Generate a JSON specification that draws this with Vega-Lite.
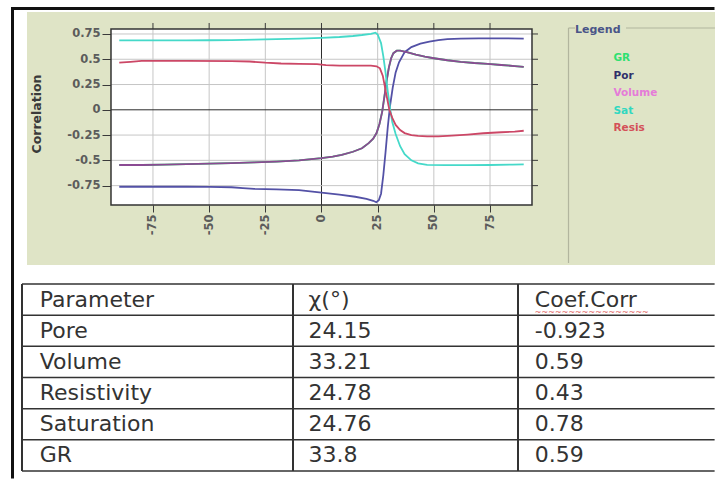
{
  "$schema": "https://vega.github.io/schema/vega-lite/v6.json",
  "background": "white",
  "padding": {"left": 10, "top": 6, "right": 0, "bottom": 0},
  "config": {"view": {"stroke": null}},
  "datasets": {
    "one": [{}],
    "lines": [
      {"series":"GR","x":-90,"corr":-0.546},{"series":"GR","x":-80,"corr":-0.546},{"series":"GR","x":-70,"corr":-0.543},{"series":"GR","x":-60,"corr":-0.537},{"series":"GR","x":-50,"corr":-0.532},{"series":"GR","x":-40,"corr":-0.527},{"series":"GR","x":-30,"corr":-0.52},{"series":"GR","x":-20,"corr":-0.512},{"series":"GR","x":-10,"corr":-0.5},{"series":"GR","x":0,"corr":-0.478},{"series":"GR","x":5,"corr":-0.463},{"series":"GR","x":9,"corr":-0.445},{"series":"GR","x":14,"corr":-0.415},{"series":"GR","x":18,"corr":-0.38},{"series":"GR","x":21,"corr":-0.33},{"series":"GR","x":23,"corr":-0.285},{"series":"GR","x":24.5,"corr":-0.23},{"series":"GR","x":25.8,"corr":-0.14},{"series":"GR","x":27,"corr":-0.02},{"series":"GR","x":28,"corr":0.13},{"series":"GR","x":29,"corr":0.29},{"series":"GR","x":30,"corr":0.42},{"series":"GR","x":31,"corr":0.51},{"series":"GR","x":32,"corr":0.56},{"series":"GR","x":33.5,"corr":0.585},{"series":"GR","x":35,"corr":0.585},{"series":"GR","x":38,"corr":0.57},{"series":"GR","x":42,"corr":0.545},{"series":"GR","x":46,"corr":0.525},{"series":"GR","x":50,"corr":0.51},{"series":"GR","x":56,"corr":0.49},{"series":"GR","x":62,"corr":0.475},{"series":"GR","x":68,"corr":0.463},{"series":"GR","x":74,"corr":0.455},{"series":"GR","x":80,"corr":0.443},{"series":"GR","x":86,"corr":0.433},{"series":"GR","x":90,"corr":0.425},
      {"series":"Por","x":-90,"corr":-0.761},{"series":"Por","x":-80,"corr":-0.761},{"series":"Por","x":-70,"corr":-0.761},{"series":"Por","x":-60,"corr":-0.761},{"series":"Por","x":-50,"corr":-0.762},{"series":"Por","x":-40,"corr":-0.766},{"series":"Por","x":-35,"corr":-0.775},{"series":"Por","x":-30,"corr":-0.782},{"series":"Por","x":-20,"corr":-0.788},{"series":"Por","x":-10,"corr":-0.795},{"series":"Por","x":0,"corr":-0.82},{"series":"Por","x":8,"corr":-0.84},{"series":"Por","x":15,"corr":-0.86},{"series":"Por","x":20,"corr":-0.88},{"series":"Por","x":23,"corr":-0.9},{"series":"Por","x":24.4,"corr":-0.915},{"series":"Por","x":25.5,"corr":-0.895},{"series":"Por","x":26.5,"corr":-0.83},{"series":"Por","x":27.5,"corr":-0.65},{"series":"Por","x":28.5,"corr":-0.42},{"series":"Por","x":29.5,"corr":-0.17},{"series":"Por","x":30.5,"corr":0.04},{"series":"Por","x":31.7,"corr":0.22},{"series":"Por","x":33,"corr":0.37},{"series":"Por","x":34.5,"corr":0.47},{"series":"Por","x":37,"corr":0.57},{"series":"Por","x":40,"corr":0.62},{"series":"Por","x":44,"corr":0.655},{"series":"Por","x":48,"corr":0.675},{"series":"Por","x":52,"corr":0.69},{"series":"Por","x":56,"corr":0.7},{"series":"Por","x":62,"corr":0.705},{"series":"Por","x":70,"corr":0.707},{"series":"Por","x":80,"corr":0.707},{"series":"Por","x":90,"corr":0.705},
      {"series":"Volume","x":-90,"corr":-0.546},{"series":"Volume","x":-80,"corr":-0.546},{"series":"Volume","x":-70,"corr":-0.543},{"series":"Volume","x":-60,"corr":-0.537},{"series":"Volume","x":-50,"corr":-0.532},{"series":"Volume","x":-40,"corr":-0.527},{"series":"Volume","x":-30,"corr":-0.52},{"series":"Volume","x":-20,"corr":-0.512},{"series":"Volume","x":-10,"corr":-0.5},{"series":"Volume","x":0,"corr":-0.478},{"series":"Volume","x":5,"corr":-0.463},{"series":"Volume","x":9,"corr":-0.445},{"series":"Volume","x":14,"corr":-0.415},{"series":"Volume","x":18,"corr":-0.38},{"series":"Volume","x":21,"corr":-0.33},{"series":"Volume","x":23,"corr":-0.285},{"series":"Volume","x":24.5,"corr":-0.23},{"series":"Volume","x":25.8,"corr":-0.14},{"series":"Volume","x":27,"corr":-0.02},{"series":"Volume","x":28,"corr":0.13},{"series":"Volume","x":29,"corr":0.29},{"series":"Volume","x":30,"corr":0.42},{"series":"Volume","x":31,"corr":0.51},{"series":"Volume","x":32,"corr":0.56},{"series":"Volume","x":33.5,"corr":0.585},{"series":"Volume","x":35,"corr":0.585},{"series":"Volume","x":38,"corr":0.57},{"series":"Volume","x":42,"corr":0.545},{"series":"Volume","x":46,"corr":0.525},{"series":"Volume","x":50,"corr":0.51},{"series":"Volume","x":56,"corr":0.49},{"series":"Volume","x":62,"corr":0.475},{"series":"Volume","x":68,"corr":0.463},{"series":"Volume","x":74,"corr":0.455},{"series":"Volume","x":80,"corr":0.443},{"series":"Volume","x":86,"corr":0.433},{"series":"Volume","x":90,"corr":0.425},
      {"series":"Sat","x":-90,"corr":0.687},{"series":"Sat","x":-80,"corr":0.686},{"series":"Sat","x":-70,"corr":0.686},{"series":"Sat","x":-60,"corr":0.687},{"series":"Sat","x":-50,"corr":0.688},{"series":"Sat","x":-40,"corr":0.69},{"series":"Sat","x":-30,"corr":0.694},{"series":"Sat","x":-20,"corr":0.699},{"series":"Sat","x":-10,"corr":0.705},{"series":"Sat","x":0,"corr":0.712},{"series":"Sat","x":8,"corr":0.72},{"series":"Sat","x":14,"corr":0.73},{"series":"Sat","x":18,"corr":0.74},{"series":"Sat","x":22,"corr":0.752},{"series":"Sat","x":24,"corr":0.763},{"series":"Sat","x":25,"corr":0.745},{"series":"Sat","x":26.5,"corr":0.66},{"series":"Sat","x":27.5,"corr":0.53},{"series":"Sat","x":28.5,"corr":0.37},{"series":"Sat","x":29.5,"corr":0.18},{"series":"Sat","x":30.5,"corr":0.02},{"series":"Sat","x":31.5,"corr":-0.12},{"series":"Sat","x":33,"corr":-0.24},{"series":"Sat","x":35,"corr":-0.36},{"series":"Sat","x":37,"corr":-0.44},{"series":"Sat","x":40,"corr":-0.5},{"series":"Sat","x":43,"corr":-0.53},{"series":"Sat","x":47,"corr":-0.545},{"series":"Sat","x":55,"corr":-0.548},{"series":"Sat","x":65,"corr":-0.548},{"series":"Sat","x":75,"corr":-0.546},{"series":"Sat","x":85,"corr":-0.542},{"series":"Sat","x":90,"corr":-0.54},
      {"series":"Resis","x":-90,"corr":0.466},{"series":"Resis","x":-85,"corr":0.475},{"series":"Resis","x":-80,"corr":0.483},{"series":"Resis","x":-60,"corr":0.483},{"series":"Resis","x":-40,"corr":0.482},{"series":"Resis","x":-32,"corr":0.478},{"series":"Resis","x":-25,"corr":0.466},{"series":"Resis","x":-18,"corr":0.458},{"series":"Resis","x":-10,"corr":0.455},{"series":"Resis","x":-2,"corr":0.452},{"series":"Resis","x":2,"corr":0.442},{"series":"Resis","x":8,"corr":0.437},{"series":"Resis","x":15,"corr":0.436},{"series":"Resis","x":22,"corr":0.436},{"series":"Resis","x":24.5,"corr":0.43},{"series":"Resis","x":26,"corr":0.41},{"series":"Resis","x":27.3,"corr":0.335},{"series":"Resis","x":28.7,"corr":0.17},{"series":"Resis","x":30.2,"corr":0.0},{"series":"Resis","x":31.5,"corr":-0.08},{"series":"Resis","x":33,"corr":-0.15},{"series":"Resis","x":35,"corr":-0.2},{"series":"Resis","x":37,"corr":-0.23},{"series":"Resis","x":40,"corr":-0.25},{"series":"Resis","x":43,"corr":-0.258},{"series":"Resis","x":47,"corr":-0.262},{"series":"Resis","x":52,"corr":-0.262},{"series":"Resis","x":58,"corr":-0.255},{"series":"Resis","x":65,"corr":-0.245},{"series":"Resis","x":72,"corr":-0.232},{"series":"Resis","x":80,"corr":-0.222},{"series":"Resis","x":86,"corr":-0.215},{"series":"Resis","x":90,"corr":-0.207}
    ],
    "xgrid": [{"g":-75},{"g":-50},{"g":-25},{"g":0},{"g":25},{"g":50},{"g":75}],
    "ygrid": [{"g":-0.75},{"g":-0.5},{"g":-0.25},{"g":0},{"g":0.25},{"g":0.5},{"g":0.75}],
    "table": [
      {"Parameter":"Parameter","chi":"χ(°)","coef":"Coef.Corr"},
      {"Parameter":"Pore","chi":"24.15","coef":"-0.923"},
      {"Parameter":"Volume","chi":"33.21","coef":"0.59"},
      {"Parameter":"Resistivity","chi":"24.78","coef":"0.43"},
      {"Parameter":"Saturation","chi":"24.76","coef":"0.78"},
      {"Parameter":"GR","chi":"33.8","coef":"0.59"}
    ]
  },
  "spacing": 19,
  "bounds": "flush",
  "vconcat": [
    {
      "width": 689,
      "height": 253,
      "view": {"fill": "#dfe4c6", "stroke": null},
      "resolve": {"axis": {"x": "independent", "y": "independent"}},
      "layer": [
        {
          "data": {"name": "one"},
          "mark": {"type": "rect", "fill": "white"},
          "encoding": {
            "x": {"datum": -93.68, "type": "quantitative", "scale": {"domain": [-131.06, 175.57], "nice": false, "zero": false}, "axis": null},
            "x2": {"datum": 93.68},
            "y": {"datum": 0.7992, "type": "quantitative", "scale": {"domain": [-1.5351, 0.9674], "nice": false, "zero": false}, "axis": null},
            "y2": {"datum": -0.9417}
          }
        },
        {
          "data": {"name": "xgrid"},
          "mark": {"type": "rule", "strokeWidth": 1},
          "encoding": {
            "x": {"field": "g", "type": "quantitative", "axis": null},
            "y": {"datum": -0.9417, "type": "quantitative", "axis": null},
            "y2": {"datum": 0.7992},
            "color": {"condition": {"test": "datum.g === 0", "value": "#2b2b2b"}, "value": "#c6c6c6"}
          }
        },
        {
          "data": {"name": "ygrid"},
          "mark": {"type": "rule", "strokeWidth": 1},
          "encoding": {
            "y": {"field": "g", "type": "quantitative", "axis": null},
            "x": {"datum": -93.68, "type": "quantitative", "axis": null},
            "x2": {"datum": 93.68},
            "color": {"condition": {"test": "datum.g === 0", "value": "#2b2b2b"}, "value": "#c6c6c6"}
          }
        },
        {
          "data": {"name": "xgrid"},
          "mark": {"type": "rule", "strokeWidth": 1, "color": "#3a3a3a"},
          "encoding": {
            "x": {"field": "g", "type": "quantitative", "axis": null},
            "y": {"datum": 0.7992, "type": "quantitative", "axis": null},
            "y2": {"datum": 0.8586}
          }
        },
        {
          "data": {"name": "ygrid"},
          "mark": {"type": "rule", "strokeWidth": 1, "color": "#3a3a3a"},
          "encoding": {
            "y": {"field": "g", "type": "quantitative", "axis": null},
            "x": {"datum": 93.68, "type": "quantitative", "axis": null},
            "x2": {"datum": 96.35}
          }
        },
        {
          "data": {"name": "lines"},
          "mark": {"type": "line", "strokeWidth": 1.8},
          "encoding": {
            "x": {
              "field": "x", "type": "quantitative",
              "scale": {"domain": [-131.06, 175.57], "nice": false, "zero": false},
              "axis": {
                "orient": "bottom", "offset": -60, "values": [-75, -50, -25, 0, 25, 50, 75],
                "labelExpr": "'' + datum.value", "labelAngle": 270, "labelFlush": false, "labelOverlap": false,
                "domain": false, "grid": false, "ticks": true, "tickSize": 7, "tickColor": "#3a3a3a",
                "labelPadding": 2, "labelFont": "DejaVu Sans", "labelFontWeight": "bold", "labelFontSize": 11.5, "labelColor": "#5c5c5c",
                "title": null
              }
            },
            "y": {
              "field": "corr", "type": "quantitative",
              "scale": {"domain": [-1.5351, 0.9674], "nice": false, "zero": false},
              "axis": {
                "orient": "left", "offset": -84, "values": [-0.75, -0.5, -0.25, 0, 0.25, 0.5, 0.75],
                "labelExpr": "'' + datum.value", "labelFlush": false, "labelOverlap": false,
                "domain": false, "grid": false, "ticks": true, "tickSize": 9, "tickColor": "#3a3a3a",
                "labelPadding": 2, "labelFont": "DejaVu Sans", "labelFontWeight": "bold", "labelFontSize": 11.5, "labelColor": "#5c5c5c",
                "title": "Correlation", "titleFont": "DejaVu Sans", "titleFontWeight": "bold", "titleFontSize": 12.5, "titleColor": "#3a3a3a",
                "titleAngle": 270, "titleX": -74.5, "titleY": 101.5, "titleAlign": "center", "titleBaseline": "middle"
              }
            },
            "color": {
              "field": "series", "type": "nominal",
              "scale": {"domain": ["GR", "Por", "Volume", "Sat", "Resis"], "range": ["#2bd96a", "#5351a6", "#8b4a93", "#45d9c9", "#cc4766"]},
              "legend": {
                "orient": "none", "legendX": 548, "legendY": 11.5, "padding": 0,
                "title": "Legend", "titleFont": "DejaVu Sans", "titleFontWeight": "bold", "titleFontSize": 11, "titleColor": "#4a5588", "titlePadding": 18.5,
                "labelFont": "DejaVu Sans", "labelFontWeight": "bold", "labelFontSize": 10.5, "labelOffset": 28,
                "symbolSize": 0, "symbolStrokeWidth": 0, "symbolOpacity": 0, "rowPadding": 6.5,
                "encode": {"labels": {"update": {"fill": {"signal": "datum.value === 'GR' ? '#2ee070' : datum.value === 'Por' ? '#2f2f6a' : datum.value === 'Volume' ? '#e57bd8' : datum.value === 'Sat' ? '#30d8c0' : '#d45058'"}}}}
              }
            }
          }
        },
        {
          "data": {"name": "one"},
          "mark": {"type": "rect", "filled": false, "stroke": "#333333", "strokeWidth": 1.5},
          "encoding": {
            "x": {"datum": -93.68, "type": "quantitative", "axis": null},
            "x2": {"datum": 93.68},
            "y": {"datum": 0.7992, "type": "quantitative", "axis": null},
            "y2": {"datum": -0.9417}
          }
        },
        {
          "data": {"name": "one"},
          "mark": {"type": "rule", "strokeWidth": 3, "color": "#111111", "strokeCap": "square"},
          "encoding": {
            "x": {"datum": -137.51, "type": "quantitative", "axis": null},
            "y": {"datum": 1.002, "type": "quantitative", "axis": null},
            "y2": {"datum": -3.6321}
          }
        },
        {
          "data": {"name": "one"},
          "mark": {"type": "rule", "strokeWidth": 3, "color": "#111111", "strokeCap": "square"},
          "encoding": {
            "y": {"datum": 1.002, "type": "quantitative", "axis": null},
            "x": {"datum": -137.51, "type": "quantitative", "axis": null},
            "x2": {"datum": 174.24}
          }
        },
        {
          "data": {"name": "one"},
          "mark": {"type": "rule", "strokeWidth": 1.2, "color": "#b2b59e"},
          "encoding": {
            "x": {"datum": 109.93, "type": "quantitative", "axis": null},
            "y": {"datum": 0.8091, "type": "quantitative", "axis": null},
            "y2": {"datum": -1.5153}
          }
        },
        {
          "data": {"name": "one"},
          "mark": {"type": "rule", "strokeWidth": 1.2, "color": "#b2b59e"},
          "encoding": {
            "y": {"datum": 0.8091, "type": "quantitative", "axis": null},
            "x": {"datum": 109.93, "type": "quantitative", "axis": null},
            "x2": {"datum": 112.82}
          }
        },
        {
          "data": {"name": "one"},
          "mark": {"type": "rule", "strokeWidth": 1.2, "color": "#b2b59e"},
          "encoding": {
            "y": {"datum": 0.8091, "type": "quantitative", "axis": null},
            "x": {"datum": 135.5, "type": "quantitative", "axis": null},
            "x2": {"datum": 175.1}
          }
        }
      ]
    },
    {
      "width": 689,
      "height": 187,
      "data": {"name": "table"},
      "layer": [
        {
          "mark": {"type": "rule", "color": "#333333", "strokeWidth": 1.5},
          "encoding": {
            "y": {"field": "Parameter", "type": "nominal", "sort": null, "bandPosition": 0, "scale": {"type": "band", "paddingInner": 0, "paddingOuter": 0}, "axis": null},
            "x": {"datum": 0, "type": "quantitative", "scale": {"domain": [0.7205, 100], "nice": false, "zero": false}, "axis": null},
            "x2": {"datum": 99.8}
          }
        },
        {
          "transform": [{"filter": "datum.Parameter === 'GR'"}],
          "mark": {"type": "rule", "color": "#333333", "strokeWidth": 1.5},
          "encoding": {
            "y": {"field": "Parameter", "type": "nominal", "sort": null, "bandPosition": 1, "axis": null},
            "x": {"datum": 0, "type": "quantitative", "axis": null},
            "x2": {"datum": 99.8}
          }
        },
        {
          "mark": {"type": "rule", "color": "#333333", "strokeWidth": 1.5},
          "encoding": {"x": {"datum": 0, "type": "quantitative", "axis": null}}
        },
        {
          "mark": {"type": "rule", "color": "#333333", "strokeWidth": 1.5},
          "encoding": {"x": {"datum": 39.05, "type": "quantitative", "axis": null}}
        },
        {
          "mark": {"type": "rule", "color": "#333333", "strokeWidth": 1.5},
          "encoding": {"x": {"datum": 71.47, "type": "quantitative", "axis": null}}
        },
        {
          "mark": {"type": "text", "align": "left", "baseline": "middle", "font": "DejaVu Sans", "fontSize": 22, "color": "#333333"},
          "encoding": {
            "y": {"field": "Parameter", "type": "nominal", "sort": null, "bandPosition": 0.5, "axis": null},
            "x": {"datum": 2.55, "type": "quantitative", "axis": null},
            "text": {"field": "Parameter"}
          }
        },
        {
          "mark": {"type": "text", "align": "left", "baseline": "middle", "font": "DejaVu Sans", "fontSize": 22, "color": "#333333"},
          "encoding": {
            "y": {"field": "Parameter", "type": "nominal", "sort": null, "bandPosition": 0.5, "axis": null},
            "x": {"datum": 41.3, "type": "quantitative", "axis": null},
            "text": {"field": "chi"}
          }
        },
        {
          "mark": {"type": "text", "align": "left", "baseline": "middle", "font": "DejaVu Sans", "fontSize": 22, "color": "#333333"},
          "encoding": {
            "y": {"field": "Parameter", "type": "nominal", "sort": null, "bandPosition": 0.5, "axis": null},
            "x": {"datum": 73.9, "type": "quantitative", "axis": null},
            "text": {"field": "coef"}
          }
        },
        {
          "transform": [{"filter": "datum.Parameter === 'Parameter'"}],
          "mark": {"type": "text", "align": "left", "baseline": "middle", "font": "DejaVu Sans", "fontSize": 8, "color": "#e06060", "dy": 13.5},
          "encoding": {
            "y": {"field": "Parameter", "type": "nominal", "sort": null, "bandPosition": 0.5, "axis": null},
            "x": {"datum": 73.9, "type": "quantitative", "axis": null},
            "text": {"value": "~~~~~~~~~~~~~~~~~"}
          }
        }
      ]
    }
  ]
}
